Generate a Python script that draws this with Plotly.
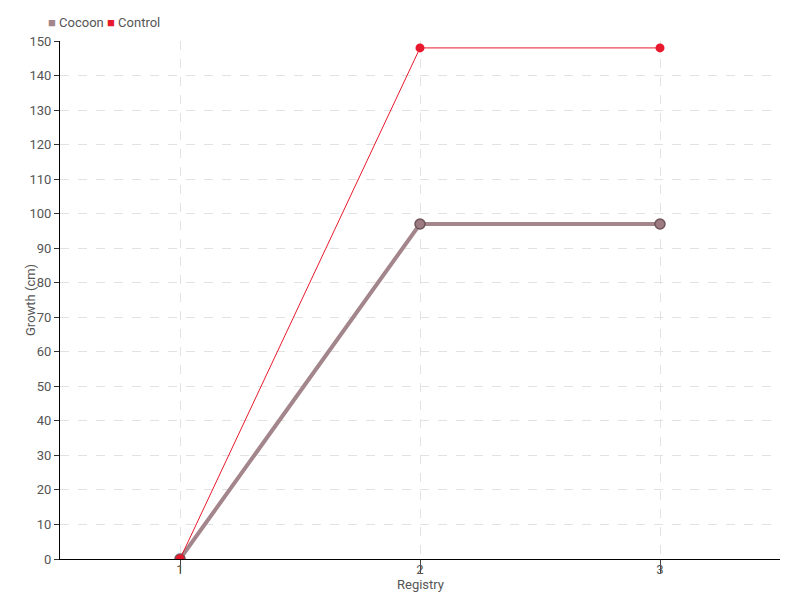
import plotly.graph_objects as go

registry = [1, 2, 3]
cocoon = [0, 97, 97]
control = [0, 148, 148]
y_ticks = list(range(0, 151, 10))

font_family = "Roboto, sans-serif"
text_color = "#555555"
cocoon_color = "#a3858c"
control_color = "#e8192c"

fig = go.Figure()

# Cocoon series
fig.add_trace(go.Scatter(
    x=registry, y=cocoon, name="Cocoon",
    mode="lines+markers",
    line=dict(color=cocoon_color, width=4),
    marker=dict(size=10, color="#9c7b82", line=dict(color="#6e545a", width=1.5)),
))

# Control series
fig.add_trace(go.Scatter(
    x=registry, y=control, name="Control",
    mode="lines+markers",
    line=dict(color=control_color, width=1),
    marker=dict(size=9, color=control_color),
))

# compact legend drawn as text (page has an 8px body margin, so figure is 784x584)
legend_text = (f"<span style='color:{cocoon_color}'>■</span> Cocoon "
               f"<span style='color:{control_color}'>■</span> Control")
fig.add_annotation(text=legend_text, xref="paper", yref="paper", x=-0.02, y=1.0,
                   xanchor="left", yanchor="middle", yshift=19, showarrow=False,
                   font=dict(size=13, color=text_color))

fig.add_annotation(text="Registry", xref="paper", yref="paper", x=0.5, y=0,
                   xanchor="center", yanchor="middle", yshift=-25, showarrow=False,
                   font=dict(size=13, color=text_color))

fig.add_annotation(text="Growth (cm)", xref="paper", yref="paper", x=0, y=0.5,
                   xanchor="center", yanchor="middle", xshift=-30, textangle=-90,
                   showarrow=False, font=dict(size=13, color=text_color))

fig.update_layout(
    width=784, height=584,
    margin=dict(l=52, r=12, t=33, b=33, autoexpand=False),
    plot_bgcolor="white", paper_bgcolor="white",
    font=dict(family=font_family, size=13, color=text_color),
    showlegend=False,
    xaxis=dict(
        range=[0.5, 3.5], tickvals=registry, ticktext=[str(v) for v in registry],
        showgrid=True, gridcolor="#e2e2e2", griddash="dash",
        showline=True, linecolor="black", linewidth=1,
        ticks="outside", ticklen=13, tickcolor="#444444",
        ticklabelstandoff=-15,
        zeroline=False, automargin=False,
    ),
    yaxis=dict(
        range=[0, 150], tickvals=y_ticks,
        showgrid=True, gridcolor="#e2e2e2", griddash="dash",
        showline=True, linecolor="black", linewidth=1,
        ticks="outside", ticklen=5, tickcolor="#333333",
        zeroline=False, automargin=False,
    ),
)

fig.write_html("out.html")
